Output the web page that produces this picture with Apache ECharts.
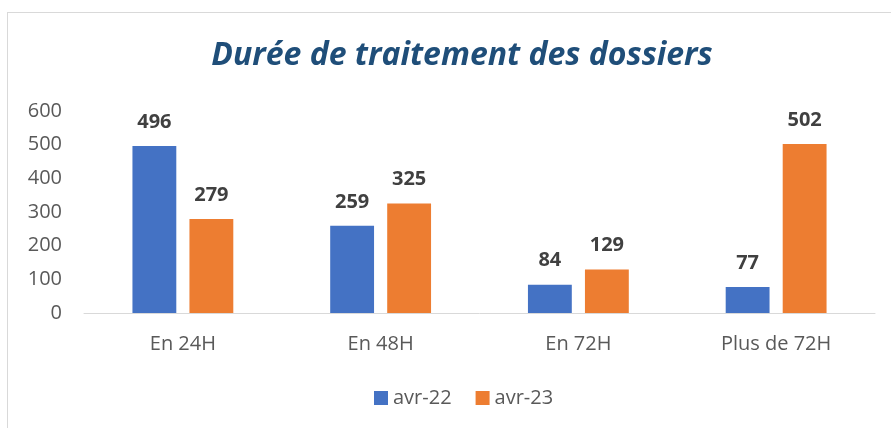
<!DOCTYPE html>
<html>
<head>
<meta charset="utf-8">
<script src="https://cdn.jsdelivr.net/npm/echarts@6/dist/echarts.min.js"></script>
<style>
  html, body { margin: 0; padding: 0; background: #fff; }
  #frame { position: absolute; left: 7px; top: 12px; width: 900px; height: 430px; border: 1px solid #d9d9d9; }
  #chart { position: absolute; left: 0; top: 0; width: 891px; height: 428px; }
</style>
</head>
<body>
<div id="frame"></div>
<div id="chart"></div>
<script>
// catégories et valeurs
const categories = ["En 24H", "En 48H", "En 72H", "Plus de 72H"];
const seriesNames = ["avr-22", "avr-23"];
const avr22 = [496, 259, 84, 77];
const avr23 = [279, 325, 129, 502];

const chart = echarts.init(document.getElementById("chart"));
const font = "'Open Sans', sans-serif";

const barLabel = {
  show: true,
  position: "top",
  distance: 14,
  fontFamily: font,
  fontSize: 20,
  fontWeight: "bold",
  color: "#404040"
};

chart.setOption({
  animation: false,
  color: ["#4472C4", "#ED7D31"],
  title: {
    text: "Durée de traitement des dossiers",
    left: 457,
    top: 35,
    textAlign: "center",
    textStyle: {
      fontFamily: font,
      fontSize: 32,
      fontStyle: "italic",
      fontWeight: "bold",
      color: "#1F4E79"
    }
  },
  legend: {
    data: seriesNames,
    bottom: 15,
    left: 369,
    itemWidth: 14,
    itemHeight: 14,
    itemGap: 24,
    icon: "rect",
    textStyle: { fontFamily: font, fontSize: 20, color: "#595959" }
  },
  grid: {
    left: 84,
    right: 16,
    top: 111,
    bottom: 115
  },
  xAxis: {
    type: "category",
    data: categories,
    axisLine: { lineStyle: { color: "#d9d9d9", width: 1 } },
    axisTick: { show: false },
    axisLabel: { fontFamily: font, fontSize: 20, color: "#595959", margin: 21 }
  },
  yAxis: {
    type: "value",
    min: 0,
    max: 600,
    interval: 100,
    splitLine: { show: false },
    axisLine: { show: false },
    axisTick: { show: false },
    axisLabel: { fontFamily: font, fontSize: 20, color: "#595959", margin: 22 }
  },
  series: [
    {
      name: seriesNames[0],
      type: "bar",
      data: avr22,
      barGap: "30%",
      barCategoryGap: "49%",
      label: barLabel
    },
    {
      name: seriesNames[1],
      type: "bar",
      data: avr23,
      label: barLabel
    }
  ]
});
</script>
</body>
</html>
